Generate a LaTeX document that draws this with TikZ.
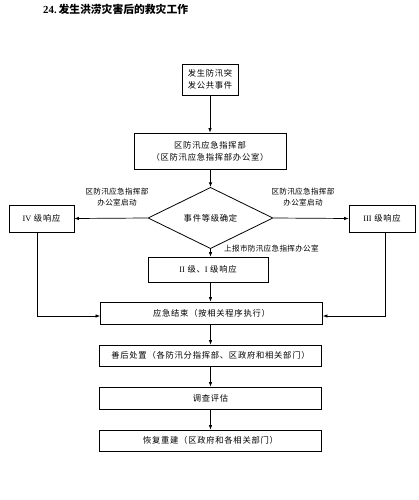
\documentclass[tikz,border=0pt]{standalone}
\usepackage{fontspec}
\setmainfont{Noto Sans CJK SC}
\newfontfamily\lat{Liberation Serif}
\usetikzlibrary{shapes.geometric,arrows.meta}
\newcommand{\bx}{\fontsize{8.3}{12}\selectfont\addfontfeature{LetterSpace=9}}
\newcommand{\sm}{\fontsize{7.6}{11}\selectfont\addfontfeature{LetterSpace=4}}
\tikzset{
  box/.style={draw, line width=0.8pt, rectangle, inner sep=1pt, align=center, font=\bx},
  lbl/.style={font=\sm, align=center, inner sep=0pt},
  arr/.style={-{Latex[length=4.5pt,width=3.5pt]}, line width=0.7pt},
  ln/.style={line width=0.7pt}
}
\begin{document}
\begin{tikzpicture}[x=1pt,y=-1pt]
\useasboundingbox (0,0) rectangle (418,500);
\node[anchor=west, inner sep=0pt, font=\fontsize{10.8}{12}\selectfont\bfseries] (title) at (43,9) {{\lat\bfseries 24.}\,发生洪涝灾害后的救灾工作};

\node[box, minimum width=56pt, minimum height=31pt] (b1) at (210,79.5) {发生防汛突\\发公共事件};
\node[box, minimum width=152pt, minimum height=36pt] (b2) at (210,151) {区防汛应急指挥部\\（区防汛应急指挥部办公室）};
\node[draw, line width=0.8pt, diamond, minimum width=125pt, minimum height=42pt, inner sep=0pt, font=\bx] (d) at (210.5,218) {事件等级确定};
\node[box, minimum width=65pt, minimum height=27pt] (iv) at (41.5,218.5) {{\lat IV} 级响应};
\node[box, minimum width=66pt, minimum height=27pt] (iii) at (382,218.5) {{\lat III} 级响应};
\node[box, minimum width=120pt, minimum height=25pt] (ii) at (208,269.5) {{\lat II} 级、{\lat I} 级响应};
\node[box, minimum width=222pt, minimum height=22pt] (end) at (211.5,313) {应急结束（按相关程序执行）};
\node[box, minimum width=222pt, minimum height=21pt] (after) at (210.5,355.5) {善后处置（各防汛分指挥部、区政府和相关部门）};
\node[box, minimum width=222pt, minimum height=22pt] (eval) at (210.5,398) {调查评估};
\node[box, minimum width=222pt, minimum height=21pt] (rebuild) at (210.5,440.5) {恢复重建（区政府和各相关部门）};

\node[lbl] (ll) at (117,197.5) {区防汛应急指挥部\\办公室启动};
\node[lbl] (rl) at (303,197.5) {区防汛应急指挥部\\办公室启动};
\node[lbl, anchor=west] (ml) at (224,249) {上报市防汛应急指挥办公室};

\draw[arr] (b1.south) -- (b1.south |- b2.north);
\draw[arr] (b2.south -| d.north) -- (d.north);
\draw[arr] (d.west) -- (iv.east);
\draw[arr] (d.east) -- (iii.west);
\draw[arr] (d.south) -- (d.south |- ii.north);
\draw[arr] (ii.south -| d.south) -- (d.south |- end.north);
\draw[arr] (d.south |- end.south) -- (d.south |- after.north);
\draw[arr] (d.south |- after.south) -- (d.south |- eval.north);
\draw[arr] (d.south |- eval.south) -- (d.south |- rebuild.north);
\coordinate (ivb) at ([xshift=-4pt]iv.south);
\coordinate (iiib) at ([xshift=3pt]iii.south);
\draw[arr] (ivb) |- ([yshift=-3pt]end.west);
\draw[arr] (iiib) |- ([yshift=-3pt]end.east);
\end{tikzpicture}
\end{document}
